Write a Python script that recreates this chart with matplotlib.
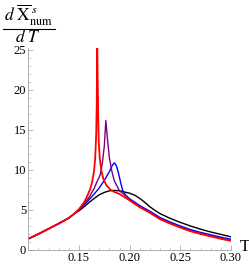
import matplotlib
matplotlib.use('Agg')
import matplotlib.pyplot as plt
import numpy as np

plt.rcParams['font.family'] = 'Liberation Serif'
plt.rcParams['mathtext.fontset'] = 'stix'

# shared low-temperature part
t_low = [0.100, 0.110, 0.120, 0.130, 0.140, 0.145]
y_low = [1.40, 2.00, 2.65, 3.30, 4.00, 4.50]

# black curve
t_black = t_low + [0.150, 0.155, 0.160, 0.165, 0.170, 0.175, 0.180, 0.185, 0.190, 0.195,
                   0.200, 0.205, 0.210, 0.215, 0.220, 0.225, 0.230, 0.240, 0.250, 0.260,
                   0.270, 0.280, 0.290, 0.300]
y_black = y_low + [4.90, 5.40, 5.95, 6.45, 6.90, 7.20, 7.40, 7.45, 7.40, 7.25,
                   7.10, 6.85, 6.45, 5.95, 5.40, 4.95, 4.55, 3.95, 3.45, 3.00,
                   2.60, 2.25, 1.95, 1.65]

# blue curve
t_blue = t_low + [0.150, 0.155, 0.160, 0.165, 0.170, 0.175, 0.180, 0.183, 0.185, 0.187,
                  0.189, 0.191, 0.193, 0.196, 0.200, 0.210, 0.220, 0.230, 0.240, 0.250,
                  0.260, 0.270, 0.280, 0.290, 0.300]
y_blue = y_low + [5.00, 5.60, 6.30, 7.00, 7.75, 8.70, 9.80, 10.60, 10.90, 10.50,
                  9.60, 8.50, 7.50, 6.85, 6.40, 5.55, 4.85, 4.05, 3.50, 3.00,
                  2.55, 2.20, 1.90, 1.60, 1.35]

# purple curve
t_purple = t_low + [0.150, 0.155, 0.160, 0.165, 0.168, 0.171, 0.173, 0.175, 0.1765, 0.178,
                    0.180, 0.1825, 0.185, 0.190, 0.195, 0.200, 0.210, 0.220, 0.230, 0.240,
                    0.250, 0.260, 0.270, 0.280, 0.290, 0.300]
y_purple = y_low + [5.05, 5.75, 6.60, 7.70, 8.60, 9.40, 10.80, 13.00, 16.20, 14.00,
                    11.50, 9.80, 8.60, 7.40, 6.90, 6.30, 5.40, 4.70, 3.90, 3.35,
                    2.85, 2.40, 2.05, 1.75, 1.45, 1.20]

# red curve
t_red = t_low + [0.150, 0.155, 0.158, 0.161, 0.163, 0.165, 0.166, 0.167, 0.1675, 0.168,
                 0.1685, 0.169, 0.1695, 0.1705, 0.172, 0.174, 0.177, 0.181, 0.185, 0.190,
                 0.200, 0.210, 0.220, 0.230, 0.240, 0.250, 0.260, 0.270, 0.280, 0.290, 0.300]
y_red = y_low + [5.10, 5.95, 6.70, 7.60, 8.50, 10.00, 11.50, 14.50, 18.00, 26.00,
                 21.00, 16.50, 13.50, 11.50, 10.00, 8.90, 8.10, 7.55, 7.25, 7.00,
                 6.20, 5.35, 4.65, 3.85, 3.30, 2.80, 2.35, 2.00, 1.70, 1.40, 1.15]

xticks = [0.15, 0.20, 0.25, 0.30]
xticklabels = ['0.15', '0.20', '0.25', '0.30']
yticks = [0, 5, 10, 15, 20, 25]

fig = plt.figure(figsize=(2.49, 2.66), dpi=100)
ax = fig.add_axes([28.3/249, 1-250/266, (231-28.3)/249, (250-48)/266])

ax.plot(t_black, y_black, color='black', lw=1.0)
ax.plot(t_blue, y_blue, color='#0000ff', lw=1.0)
ax.plot(t_purple, y_purple, color='#800080', lw=1.0)
ax.plot(t_red, y_red, color='#ff0000', lw=1.3)

ax.set_xlim(0.1, 0.3)
ax.set_ylim(0, 25.25)

for s in ['top', 'right']:
    ax.spines[s].set_visible(False)
for s in ['left', 'bottom']:
    ax.spines[s].set_color('#a0a0a0')
    ax.spines[s].set_linewidth(0.6)

ax.set_xticks(xticks)
ax.set_xticklabels(xticklabels)
ax.set_xticks(np.arange(0.11, 0.30, 0.01), minor=True)
ax.set_yticks(yticks)
ax.set_yticks(np.arange(1, 25, 1), minor=True)
ax.tick_params(which='major', direction='in', length=3.5, width=0.5, color='#a0a0a0',
               labelsize=9, pad=1.5)
ax.tick_params(which='minor', direction='in', length=2, width=0.4, color='#b0b0b0')

# axis labels
fig.text(244.5/249, 1-247/266, 'T', fontsize=12, ha='center', va='center')
fig.text(29/249, 1-15/266, r'$d\ \overline{\mathrm{X}}^{\,s}_{\mathrm{num}}$',
         fontsize=12.5, ha='center', va='center')
fig.add_artist(plt.Line2D([3/249, 55/249], [1-29/266, 1-29/266], color='black', lw=0.8))
fig.text(28/249, 1-38/266, r'$d\ T$', fontsize=12.5, ha='center', va='center')

fig.savefig('out.png', dpi=100)
